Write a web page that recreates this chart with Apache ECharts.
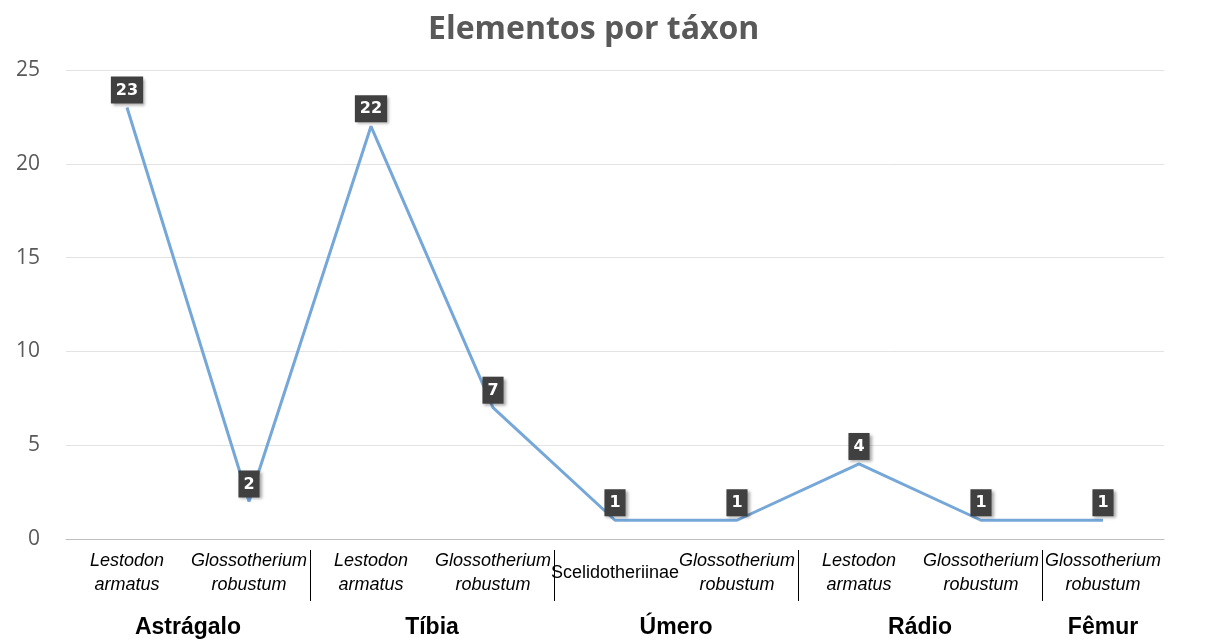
<!DOCTYPE html>
<html>
<head>
<meta charset="utf-8">
<script src="https://cdn.jsdelivr.net/npm/echarts@6/dist/echarts.min.js"></script>
<style>
  html, body { margin: 0; padding: 0; background: #fff; }
  #chart { width: 1214px; height: 639px; }
</style>
</head>
<body>
<div id="chart"></div>
<script>
// species per category (line 1 / line 2), "n" marks a non-italic name
const taxa = [
  ["Lestodon", "armatus"],
  ["Glossotherium", "robustum"],
  ["Lestodon", "armatus"],
  ["Glossotherium", "robustum"],
  ["Scelidotheriinae", "", "n"],
  ["Glossotherium", "robustum"],
  ["Lestodon", "armatus"],
  ["Glossotherium", "robustum"],
  ["Glossotherium", "robustum"]
];
const counts = [23, 2, 22, 7, 1, 1, 4, 1, 1];
const groups = ["Astrágalo", "Tíbia", "Úmero", "Rádio", "Fêmur"];
const groupSizes = [2, 2, 2, 2, 1];

// group centres and borders in category units
const groupCenters = [];
const groupBorders = [];
let acc = 0;
groupSizes.forEach((n, i) => {
  groupCenters.push(acc + n / 2);
  acc += n;
  if (i < groupSizes.length - 1) groupBorders.push(acc);
});

const categories = taxa.map((t, i) => "c" + i);

const chart = echarts.init(document.getElementById("chart"));

const option = {
  animation: false,
  title: {
    text: "Elementos por táxon",
    left: 423,
    top: 9,
    textStyle: {
      fontFamily: "Open Sans",
      fontWeight: "bold",
      fontSize: 32,
      color: "#595959"
    }
  },
  grid: { left: 66, right: 50, top: 70, bottom: 97 },
  xAxis: [
    {
      type: "category",
      data: categories,
      axisLine: { lineStyle: { color: "#bfbfbf", width: 1 } },
      axisTick: { show: false },
      axisLabel: {
        interval: 0,
        margin: 10,
        formatter: (v, idx) => {
          const t = taxa[idx];
          if (t[2] === "n") return "{n|" + t[0] + "}";
          return "{i|" + t[0] + "}\n{i|" + t[1] + "}";
        },
        rich: {
          i: {
            fontFamily: "Liberation Sans",
            fontStyle: "italic",
            fontSize: 18,
            lineHeight: 24,
            color: "#000"
          },
          n: {
            fontFamily: "Liberation Sans",
            fontSize: 18,
            lineHeight: 48,
            color: "#000"
          }
        }
      }
    },
    {
      type: "value",
      position: "bottom",
      min: 0,
      max: groupSizes.reduce((a, b) => a + b, 0),
      offset: 11,
      axisLine: { show: false },
      splitLine: { show: false },
      axisTick: {
        show: true,
        customValues: groupBorders,
        length: 51,
        lineStyle: { color: "#000", width: 1 }
      },
      axisLabel: {
        customValues: groupCenters,
        margin: 66,
        formatter: (v) => groups[groupCenters.indexOf(v)],
        fontFamily: "Liberation Sans",
        fontWeight: "bold",
        fontSize: 23,
        color: "#000"
      }
    }
  ],
  yAxis: {
    type: "value",
    min: 0,
    max: 25,
    interval: 5,
    axisLine: { show: false },
    axisTick: { show: false },
    splitLine: { lineStyle: { color: "#e3e3e3", width: 1 } },
    axisLabel: {
      margin: 26,
      fontFamily: "Open Sans",
      fontSize: 21,
      color: "#595959"
    }
  },
  series: [
    {
      type: "line",
      data: counts,
      xAxisIndex: 0,
      symbol: "circle",
      symbolSize: 0,
      showSymbol: true,
      lineStyle: { color: "#75a7d8", width: 3 },
      itemStyle: { color: "#75a7d8" },
      label: {
        show: true,
        position: "top",
        distance: 4,
        backgroundColor: "#404040",
        color: "#fff",
        fontFamily: "DejaVu Sans",
        fontWeight: "bold",
        fontSize: 16,
        padding: [6, 5, 5, 5],
        shadowColor: "rgba(0,0,0,0.35)",
        shadowBlur: 3,
        shadowOffsetX: 2,
        shadowOffsetY: 2
      }
    }
  ]
};

chart.setOption(option);
</script>
</body>
</html>
